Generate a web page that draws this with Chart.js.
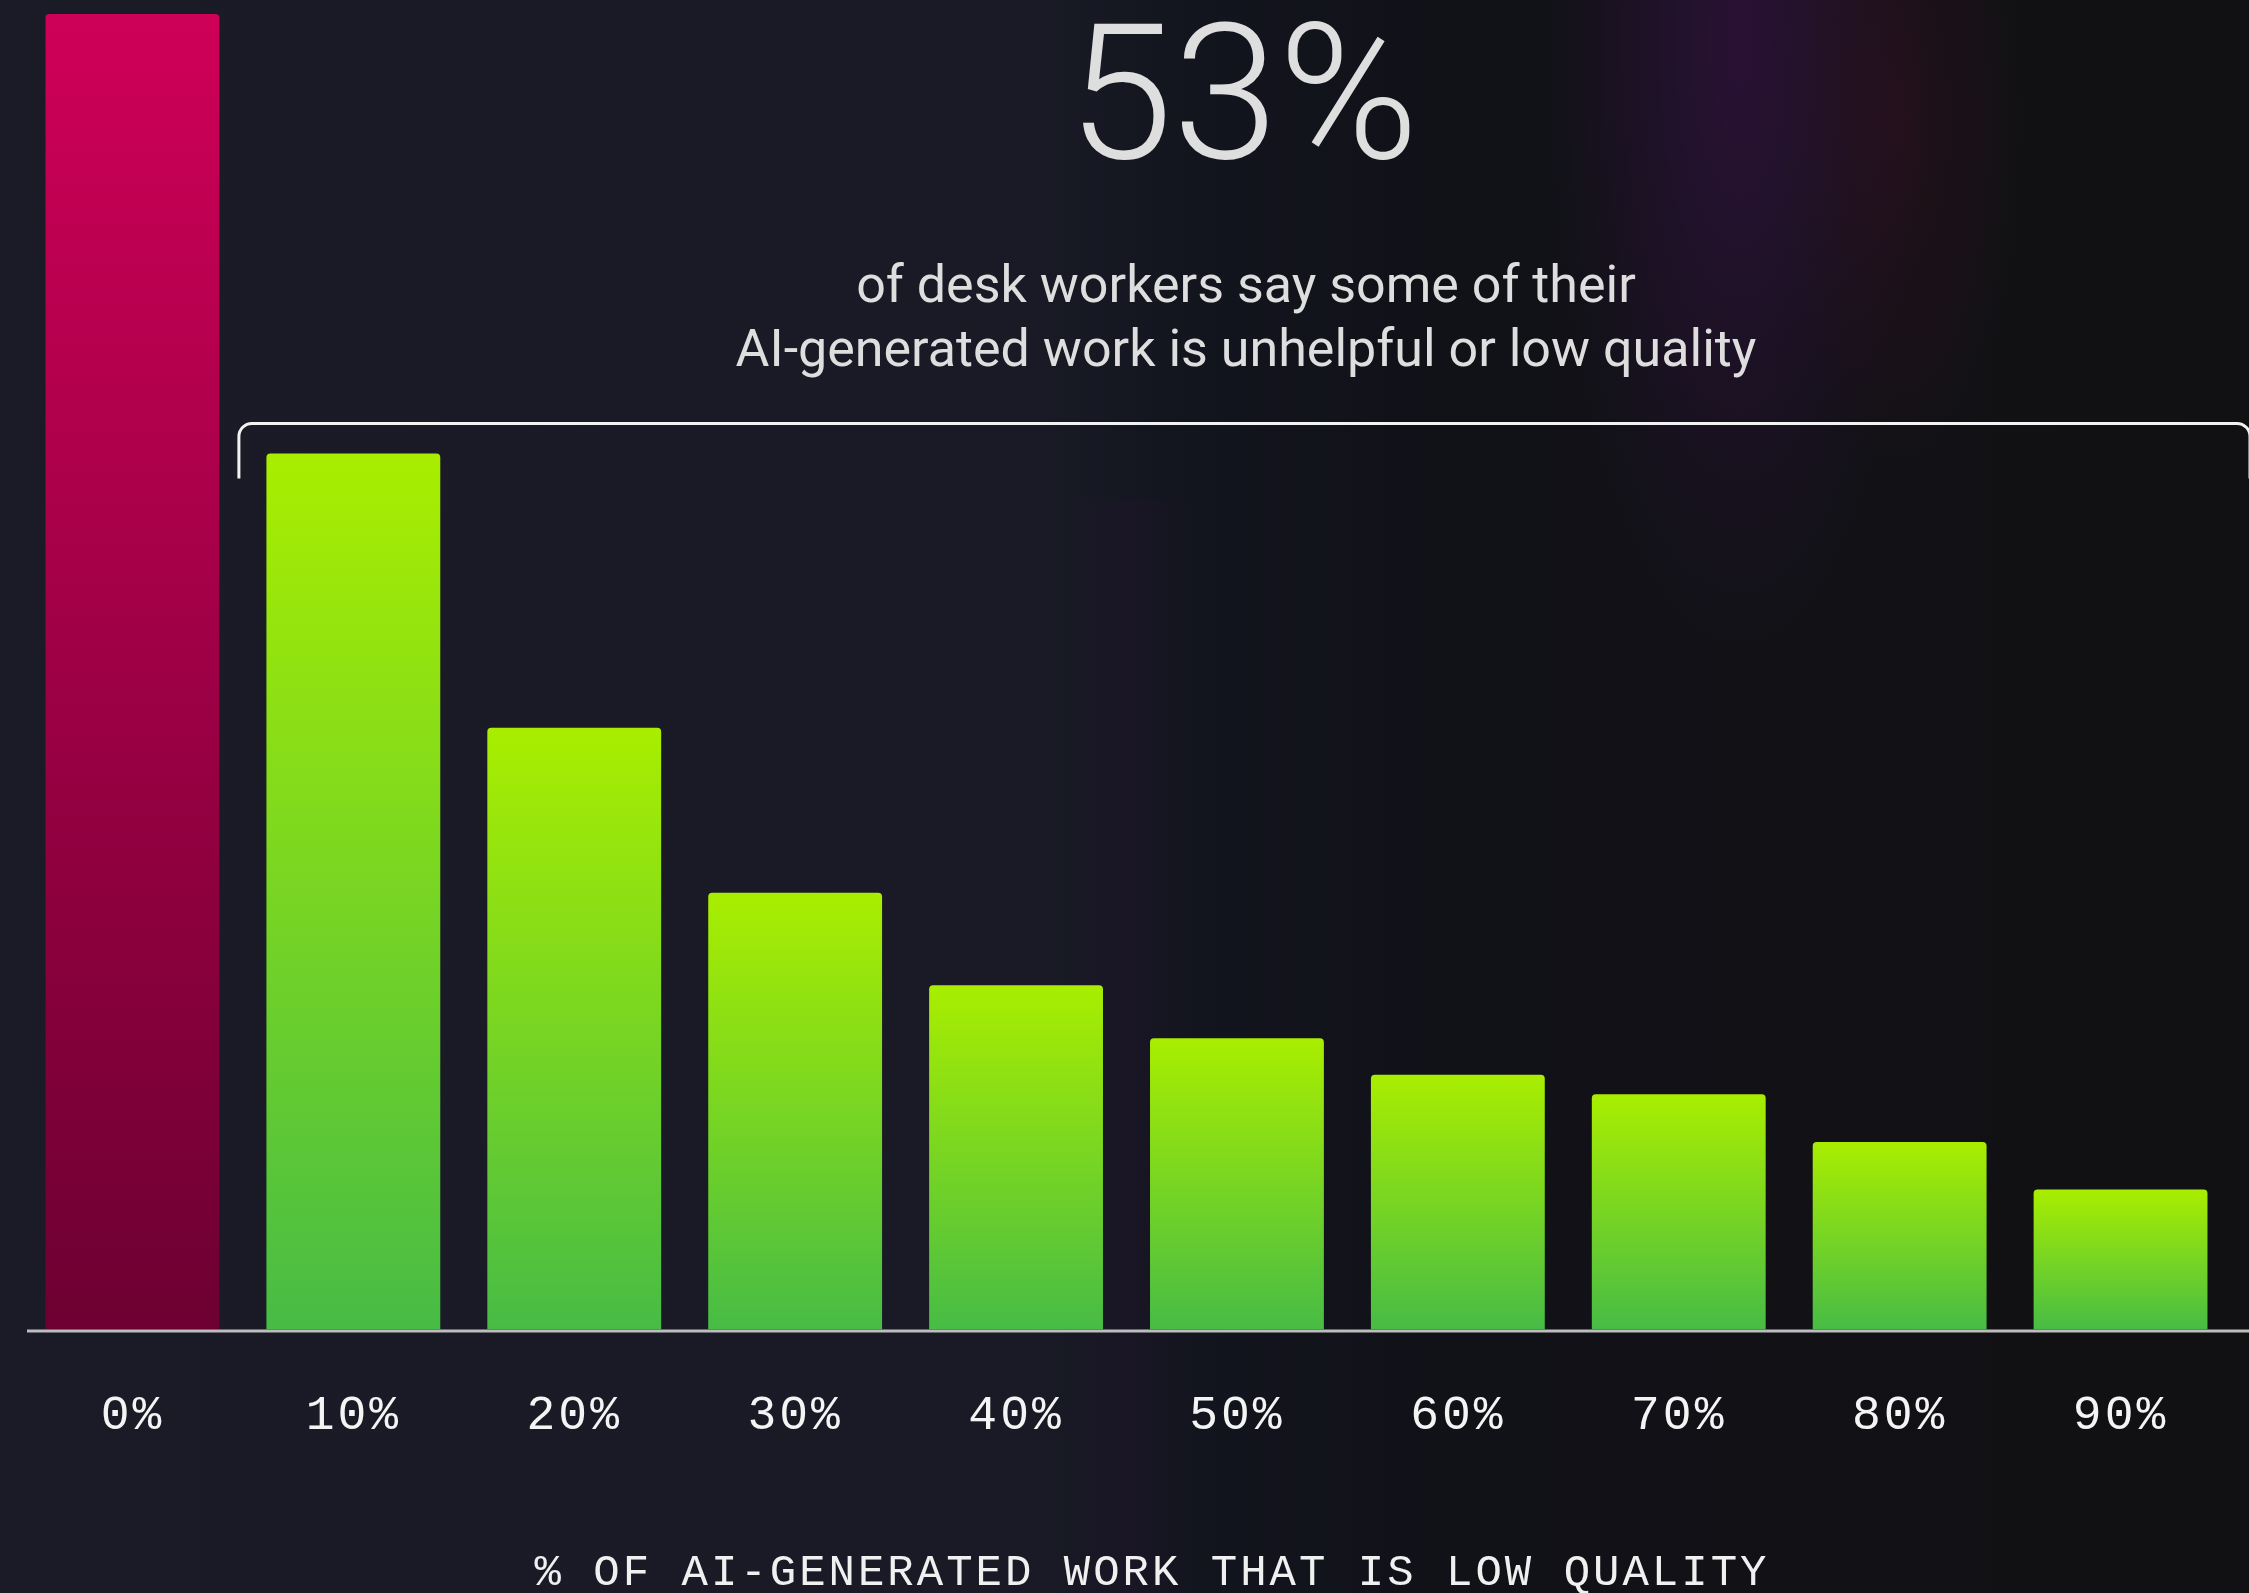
<!DOCTYPE html>
<html>
<head>
<meta charset="utf-8">
<script src="https://cdn.jsdelivr.net/npm/chart.js@4.4.1/dist/chart.umd.min.js"></script>
<style>
  html, body { margin: 0; padding: 0; background: #1a1b26; overflow: hidden; }
  #wrap { width: 2249px; height: 1593px; }
</style>
</head>
<body>
<div id="wrap"><canvas id="myChart" width="2249" height="1593"></canvas></div>
<script>
// share of AI-generated work that is low quality (x) vs. desk workers (bar height)
const categories = ['0%', '10%', '20%', '30%', '40%', '50%', '60%', '70%', '80%', '90%'];
const workerShare = [47, 31.3, 21.5, 15.6, 12.3, 10.4, 9.1, 8.4, 6.7, 5.0];

const headline = '53%';
const subtitleLines = ['of desk workers say some of their', 'AI-generated work is unhelpful or low quality'];
const axisTitle = '% OF AI-GENERATED WORK THAT IS LOW QUALITY';

const ctx = document.getElementById('myChart');

// gradient running down each bar, from its own top to the baseline
function barGradient(context) {
    const chart = context.chart;
    const i = context.dataIndex;
    if (!chart.chartArea || !chart.scales.y) {
        return i === 0 ? '#b0004f' : '#7fd81c';
    }
    const y = chart.scales.y;
    const top = y.getPixelForValue(context.raw);
    const bottom = y.getPixelForValue(0);
    const g = chart.ctx.createLinearGradient(0, top, 0, bottom);
    if (i === 0) {
        g.addColorStop(0, '#cf0058');
        g.addColorStop(1, '#6d0032');
    } else {
        g.addColorStop(0, '#a9ee00');
        g.addColorStop(1, '#47bc45');
    }
    return g;
}

const backdrop = {
    id: 'backdrop',
    beforeDraw(chart) {
        const c = chart.ctx;
        const w = chart.width, h = chart.height;
        c.save();
        let g = c.createLinearGradient(0, 0, w, 0);
        g.addColorStop(0, '#1a1b26');
        g.addColorStop(0.46, '#191a25');
        g.addColorStop(0.52, '#13151f');
        g.addColorStop(0.62, '#111219');
        g.addColorStop(1, '#111113');
        c.fillStyle = g;
        c.fillRect(0, 0, w, h);

        // purple haze near the top right
        c.save();
        c.translate(1740, 40);
        c.scale(1, 3.2);
        let r = c.createRadialGradient(0, 0, 0, 0, 0, 190);
        r.addColorStop(0, 'rgba(62, 18, 78, 0.55)');
        r.addColorStop(1, 'rgba(62, 18, 78, 0)');
        c.fillStyle = r;
        c.fillRect(-400, -200, 800, 400);
        c.restore();

        c.save();
        c.translate(1900, 120);
        c.scale(1, 3);
        r = c.createRadialGradient(0, 0, 0, 0, 0, 120);
        r.addColorStop(0, 'rgba(55, 16, 30, 0.45)');
        r.addColorStop(1, 'rgba(55, 16, 30, 0)');
        c.fillStyle = r;
        c.fillRect(-300, -200, 600, 400);
        c.restore();

        // faint violet band lower in the middle
        g = c.createLinearGradient(1060, 0, 1200, 0);
        g.addColorStop(0, 'rgba(40, 20, 50, 0)');
        g.addColorStop(0.5, 'rgba(40, 20, 50, 0.25)');
        g.addColorStop(1, 'rgba(40, 20, 50, 0)');
        c.fillStyle = g;
        c.fillRect(1060, 500, 140, h - 500);

        c.restore();
        c.letterSpacing = '3px';
    },
    afterDraw(chart) {
        const c = chart.ctx;
        const x = chart.scales.x;
        const y = chart.scales.y;
        c.save();
        c.letterSpacing = '0px';

        // baseline under the bars
        const base = y.getPixelForValue(0);
        c.strokeStyle = '#bdbdbd';
        c.lineWidth = 3;
        c.beginPath();
        c.moveTo(27, base + 1.5);
        c.lineTo(chart.width, base + 1.5);
        c.stroke();

        // bracket over every bar except 0%
        const cat = (x.right - x.left) / categories.length;
        const bx0 = x.getPixelForValue(1) - cat / 2 - 4;
        const bx1 = chart.width + 1;
        const by = y.getPixelForValue(workerShare[1]) - 30;
        const rad = 13;
        c.strokeStyle = '#f2f2f2';
        c.lineWidth = 3;
        c.beginPath();
        c.moveTo(bx0, by + 55);
        c.lineTo(bx0, by + rad);
        c.arcTo(bx0, by, bx0 + rad, by, rad);
        c.lineTo(bx1 - rad, by);
        c.arcTo(bx1, by, bx1, by + rad, rad);
        c.lineTo(bx1, by + 55);
        c.stroke();

        // headline and caption
        c.fillStyle = '#dedede';
        c.textAlign = 'center';
        c.textBaseline = 'alphabetic';
        c.font = '300 190px Roboto';
        c.fillText(headline, 1243, 158);
        c.font = '400 52px Roboto';
        c.fillText(subtitleLines[0], 1246, 302);
        c.fillText(subtitleLines[1], 1246, 366);

        // axis caption, spaced out monospace
        c.letterSpacing = '3px';
        c.fillStyle = '#f0f0f0';
        c.textBaseline = 'middle';
        c.font = "44px 'Liberation Mono', monospace";
        c.fillText(axisTitle, 1152, 1573);
        c.restore();
    }
};

new Chart(ctx, {
    type: 'bar',
    data: {
        labels: categories,
        datasets: [{
            label: 'Desk workers',
            data: workerShare,
            backgroundColor: barGradient,
            borderWidth: 0,
            borderRadius: { topLeft: 4, topRight: 4 },
            borderSkipped: 'bottom',
            barPercentage: 0.787,
            categoryPercentage: 1
        }]
    },
    options: {
        responsive: false,
        animation: false,
        layout: { padding: { left: 22, right: 18, top: 14, bottom: 90 } },
        plugins: {
            legend: { display: false },
            tooltip: { enabled: false }
        },
        scales: {
            x: {
                grid: { display: false, drawTicks: false },
                border: { display: false },
                ticks: {
                    color: '#f4f4f4',
                    padding: 58,
                    font: { family: "'Liberation Mono', monospace", size: 48, lineHeight: 1.2 }
                }
            },
            y: {
                display: false,
                min: 0,
                max: 47
            }
        }
    },
    plugins: [backdrop]
});
</script>
</body>
</html>
